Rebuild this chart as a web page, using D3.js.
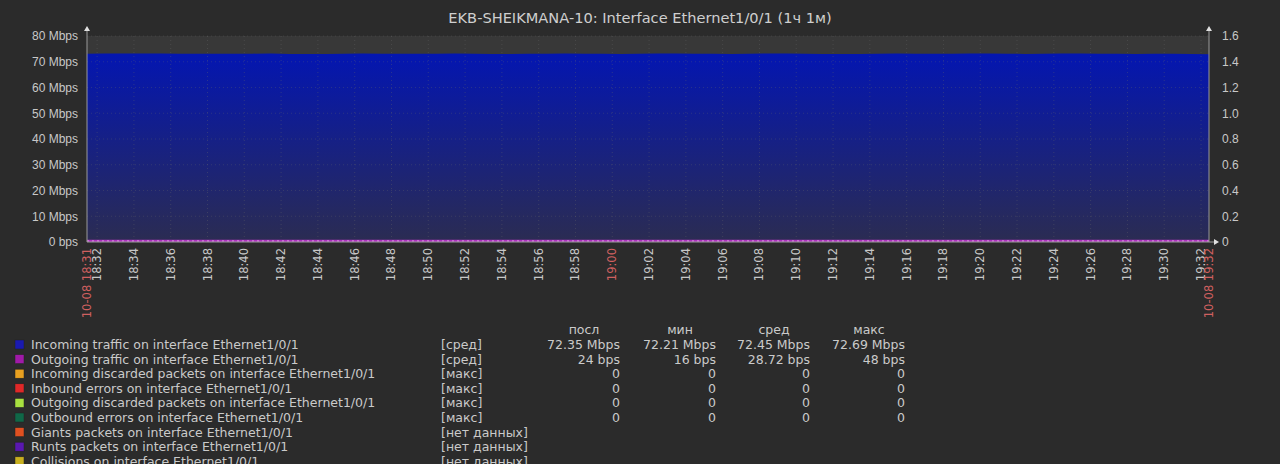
<!DOCTYPE html>
<html>
<head>
<meta charset="utf-8">
<script src="https://cdn.jsdelivr.net/npm/d3@7"></script>
<style>
body { margin: 0; background: #2b2b2b; }
svg { display: block; font-family: "DejaVu Sans", sans-serif; }
</style>
</head>
<body>
<svg id="chart" width="1280" height="464"></svg>
<script>
var title = "EKB-SHEIKMANA-10: Interface Ethernet1/0/1 (1ч 1м)";

// incoming traffic, Mbps, one sample per minute from 18:31:27
var incoming = [72.55, 72.62, 72.60, 72.58, 72.61, 72.55, 72.50, 72.48, 72.52, 72.57,
	72.60, 72.45, 72.40, 72.47, 72.55, 72.58, 72.52, 72.49, 72.50, 72.56,
	72.59, 72.51, 72.42, 72.40, 72.48, 72.55, 72.60, 72.57, 72.50, 72.44,
	72.52, 72.58, 72.61, 72.56, 72.50, 72.47, 72.54, 72.60, 72.63, 72.55,
	72.43, 72.38, 72.46, 72.53, 72.58, 72.55, 72.50, 72.56, 72.62, 72.60,
	72.52, 72.45, 72.50, 72.58, 72.62, 72.57, 72.49, 72.44, 72.50, 72.55,
	72.40, 72.35];
// outgoing traffic, bps
var outgoing = [24, 32, 16, 40, 24, 32, 48, 24, 16, 32,
	24, 40, 32, 24, 16, 24, 32, 40, 24, 32,
	16, 24, 48, 32, 24, 24, 32, 16, 40, 32,
	24, 32, 24, 16, 32, 40, 24, 32, 24, 48,
	16, 24, 32, 24, 40, 32, 24, 16, 32, 24,
	32, 40, 24, 16, 32, 24, 24, 32, 40, 24,
	32, 24];

var leftTicks = [0, 10, 20, 30, 40, 50, 60, 70, 80];
var rightTicks = [0, 0.2, 0.4, 0.6, 0.8, 1.0, 1.2, 1.4, 1.6];

var legendNames = ["Incoming traffic on interface Ethernet1/0/1",
	"Outgoing traffic on interface Ethernet1/0/1",
	"Incoming discarded packets on interface Ethernet1/0/1",
	"Inbound errors on interface Ethernet1/0/1",
	"Outgoing discarded packets on interface  Ethernet1/0/1",
	"Outbound errors on interface Ethernet1/0/1",
	"Giants packets on interface Ethernet1/0/1",
	"Runts packets on interface Ethernet1/0/1",
	"Collisions on interface Ethernet1/0/1"];
var legendColors = ["#1a1ab0", "#a01aa8", "#e8a020", "#e02828", "#a8e040", "#106848", "#e05020", "#5a18b0", "#c8b020"];
var legendFunc = ["[сред]", "[сред]", "[макс]", "[макс]", "[макс]", "[макс]", "[нет данных]", "[нет данных]", "[нет данных]"];
var statHeaders = ["посл", "мин", "сред", "макс"];
var statLast = ["72.35 Mbps", "24 bps", "0", "0", "0", "0"];
var statMin = ["72.21 Mbps", "16 bps", "0", "0", "0", "0"];
var statAvg = ["72.45 Mbps", "28.72 bps", "0", "0", "0", "0"];
var statMax = ["72.69 Mbps", "48 bps", "0", "0", "0", "0"];

var parse = d3.timeParse("%Y-%m-%d %H:%M:%S");
var tStart = parse("2023-10-08 18:31:27");
var tEnd = parse("2023-10-08 19:32:26");
var times = incoming.map((v, i) => d3.timeMinute.offset(tStart, i));

var margin = {top: 36, left: 87};
var width = 1122, height = 206;

var svg = d3.select("#chart");
var g = svg.append("g").attr("transform", "translate(" + margin.left + "," + margin.top + ")");

var x = d3.scaleTime().domain([tStart, tEnd]).range([0, width]);
var y = d3.scaleLinear().domain([0, 80]).range([height, 0]);
var y2 = d3.scaleLinear().domain([0, 1.6]).range([height, 0]);

svg.append("text")
	.attr("x", 640).attr("y", 23)
	.attr("text-anchor", "middle")
	.attr("fill", "#cfcfcf")
	.style("font-size", "14.6px")
	.text(title);

g.append("rect").attr("width", width).attr("height", height).attr("fill", "#383838");

var defs = svg.append("defs");
var grad = defs.append("linearGradient").attr("id", "inGrad")
	.attr("gradientUnits", "userSpaceOnUse")
	.attr("x1", 0).attr("x2", 0).attr("y1", y(72.5)).attr("y2", height);
grad.append("stop").attr("offset", "0%").attr("stop-color", "#0416b0");
grad.append("stop").attr("offset", "100%").attr("stop-color", "#2b2c52");
defs.append("clipPath").attr("id", "clip").append("rect").attr("width", width).attr("height", height);

var area = d3.area()
	.x((d, i) => x(times[i]))
	.y0(height)
	.y1(d => y(d) - 1.5)
	.curve(d3.curveLinear);

g.append("path")
	.datum(incoming)
	.attr("clip-path", "url(#clip)")
	.attr("fill", "url(#inGrad)")
	.attr("d", area);

// grid
var tickTimes = d3.timeMinute.every(2).range(parse("2023-10-08 18:32:00"), parse("2023-10-08 19:33:00"));
g.selectAll(".vgrid")
	.data(tickTimes)
	.enter().append("line")
	.attr("x1", d => x(d)).attr("x2", d => x(d))
	.attr("y1", 0).attr("y2", height)
	.attr("stroke", "#6a6a6a")
	.attr("stroke-opacity", 0.35)
	.attr("stroke-dasharray", "1,3");
g.selectAll(".hgrid")
	.data(leftTicks.slice(1))
	.enter().append("line")
	.attr("x1", 0).attr("x2", width)
	.attr("y1", d => y(d)).attr("y2", d => y(d))
	.attr("stroke", "#6a6a6a")
	.attr("stroke-opacity", 0.3)
	.attr("stroke-dasharray", "1,3");

var line = d3.line()
	.x((d, i) => x(times[i]))
	.y(d => y(d / 1e6) - 1);
g.append("path")
	.datum(outgoing)
	.attr("clip-path", "url(#clip)")
	.attr("fill", "none")
	.attr("stroke", "#b030c0")
	.attr("stroke-width", 2.5)
	.attr("d", line);
g.append("line")
	.attr("x1", 0).attr("x2", width)
	.attr("y1", height - 1).attr("y2", height - 1)
	.attr("stroke", "#e0a0e8")
	.attr("stroke-width", 1)
	.attr("stroke-dasharray", "2,3");

// axes
var axisColor = "#9a9a9a";
g.append("line").attr("x1", 0).attr("x2", 0).attr("y1", -6).attr("y2", height).attr("stroke", axisColor);
g.append("line").attr("x1", width).attr("x2", width).attr("y1", -6).attr("y2", height).attr("stroke", axisColor);
g.append("line").attr("x1", 0).attr("x2", width + 6).attr("y1", height).attr("y2", height).attr("stroke", axisColor);
g.append("path").attr("d", "M-3,-5L3,-5L0,-10Z").attr("fill", "#e0e0e0");
g.append("path").attr("d", "M" + (width - 3) + ",-5L" + (width + 3) + ",-5L" + width + ",-10Z").attr("fill", "#e0e0e0");
g.append("path").attr("d", "M" + (width + 5) + "," + (height - 3) + "L" + (width + 5) + "," + (height + 3) + "L" + (width + 10) + "," + height + "Z").attr("fill", "#e0e0e0");

var fmtLeft = d => d === 0 ? "0 bps" : d + " Mbps";
g.append("g")
	.call(d3.axisLeft(y).tickValues(leftTicks).tickFormat(fmtLeft).tickSize(0).tickPadding(9))
	.call(a => a.select(".domain").remove())
	.selectAll("text")
	.attr("fill", "#c8c8c8")
	.style("font-size", "12px");

g.append("g")
	.attr("transform", "translate(" + width + ",0)")
	.call(d3.axisRight(y2).tickValues(rightTicks).tickFormat(d => d === 0 ? "0" : d3.format(".1f")(d)).tickSize(0).tickPadding(13))
	.call(a => a.select(".domain").remove())
	.selectAll("text")
	.attr("fill", "#c8c8c8")
	.style("font-size", "12px");

var fmtTime = d3.timeFormat("%H:%M");
g.selectAll(".xlab")
	.data(tickTimes)
	.enter().append("text")
	.attr("transform", d => "translate(" + (x(d) + 4) + "," + (height + 6) + ") rotate(-90)")
	.attr("text-anchor", "end")
	.attr("fill", d => fmtTime(d) === "19:00" ? "#d06060" : "#c8c8c8")
	.style("font-size", "11.5px")
	.text(d => fmtTime(d));

var fmtEdge = d3.timeFormat("%m-%d %H:%M");
g.selectAll(".edge")
	.data([tStart, tEnd])
	.enter().append("text")
	.attr("transform", d => "translate(" + (x(d) + 4) + "," + (height + 6) + ") rotate(-90)")
	.attr("text-anchor", "end")
	.attr("fill", "#d06060")
	.style("font-size", "11.5px")
	.text(d => fmtEdge(d));

// legend
var rowY = d3.scaleLinear().domain([0, 1]).range([349, 363.6]);
var legend = svg.append("g").style("font-size", "12.5px");
var rows = legend.selectAll(".row").data(legendNames).enter().append("g")
	.attr("transform", (d, i) => "translate(0," + rowY(i) + ")");
rows.append("rect").attr("x", 15).attr("y", -9).attr("width", 9).attr("height", 9)
	.attr("fill", (d, i) => legendColors[i]).attr("stroke", "#222").attr("stroke-width", 0.5);
rows.append("text").attr("x", 31).attr("fill", "#cacaca").text(d => d);
rows.append("text").attr("x", 441).attr("fill", "#cacaca").text((d, i) => legendFunc[i]);

var colRight = [620, 716, 810, 905];
legend.selectAll(".hdr").data(statHeaders).enter().append("text")
	.attr("x", (d, i) => colRight[i] - 36).attr("y", 334)
	.attr("text-anchor", "middle").attr("fill", "#cacaca").text(d => d);
[statLast, statMin, statAvg, statMax].forEach(function(col, c) {
	legend.selectAll(".c" + c).data(col).enter().append("text")
		.attr("x", colRight[c]).attr("y", (d, i) => rowY(i))
		.attr("text-anchor", "end").attr("fill", "#cacaca").text(d => d);
});
</script>
</body>
</html>
